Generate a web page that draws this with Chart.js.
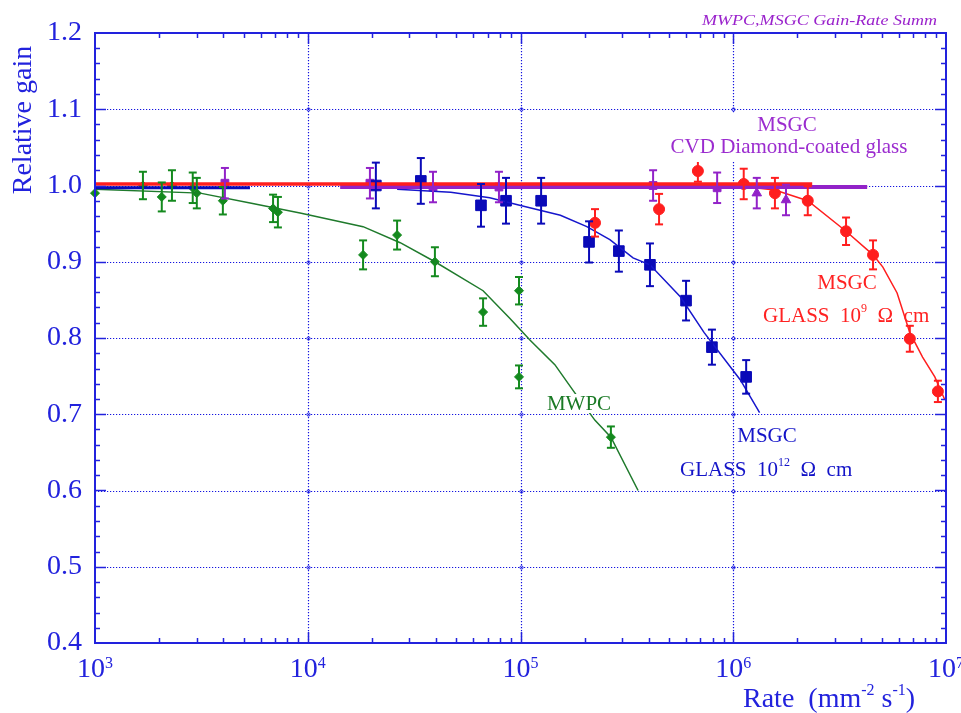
<!DOCTYPE html>
<html><head><meta charset="utf-8">
<script src="https://cdn.jsdelivr.net/npm/chart.js@4/dist/chart.umd.min.js"></script>
<style>html,body{margin:0;padding:0;background:#fff;}#wrap{width:961px;height:713px;position:relative;}</style>
</head><body><div id="wrap"><canvas id="c"></canvas></div>
<script>
// ---- data ----
const mwpcRate = [1000, 1680, 2060, 2300, 2880, 3010, 3990, 6870, 7240, 18200, 26300, 39600, 66700, 98400, 98400, 266000];
const mwpcGain = [0.990, 1.000, 0.985, 1.000, 0.997, 0.990, 0.980, 0.970, 0.965, 0.909, 0.935, 0.900, 0.834, 0.862, 0.749, 0.670];
const mwpcErr  = [0, 0.018, 0.019, 0.020, 0.020, 0.020, 0.018, 0.018, 0.020, 0.019, 0.019, 0.019, 0.018, 0.018, 0.015, 0.014];
const mwpcCurveRate = [1000, 3120, 5360, 9200, 18200, 27200, 39600, 66700, 89000, 111000, 145000, 180000, 224000, 266000, 357000];
const mwpcCurveGain = [0.995, 0.990, 0.977, 0.964, 0.946, 0.925, 0.900, 0.862, 0.826, 0.797, 0.765, 0.728, 0.692, 0.670, 0.600];

const glass12Rate = [20900, 34000, 65200, 85500, 125000, 210000, 290000, 406000, 600000, 794000, 1150000];
const glass12Gain = [1.000, 1.006, 0.974, 0.980, 0.980, 0.926, 0.914, 0.896, 0.849, 0.788, 0.749];
const glass12Err  = [0.030, 0.030, 0.028, 0.030, 0.030, 0.027, 0.027, 0.028, 0.026, 0.023, 0.022];
const glass12FlatRate = [1000, 5350];
const glass12FlatGain = [0.997, 0.997];
const glass12CurveRate = [26300, 47000, 71700, 99000, 154000, 205000, 263000, 338000, 406000, 564000, 730000, 1080000, 1330000];
const glass12CurveGain = [0.995, 0.991, 0.984, 0.974, 0.961, 0.946, 0.929, 0.905, 0.896, 0.854, 0.807, 0.745, 0.702];

const glass9Rate = [224000, 448000, 682000, 1120000, 1570000, 2240000, 3390000, 4540000, 6760000, 9160000];
const glass9Gain = [0.951, 0.969, 1.019, 1.002, 0.990, 0.980, 0.940, 0.909, 0.799, 0.730];
const glass9Err  = [0.018, 0.020, 0.014, 0.020, 0.020, 0.019, 0.018, 0.019, 0.017, 0.014];
const glass9FlatRate = [1000, 2350000];
const glass9FlatGain = [1.002, 1.002];
const glass9CurveRate = [1080000, 1570000, 2240000, 3390000, 4540000, 5050000, 5890000, 6760000, 7760000, 8860000, 9870000];
const glass9CurveGain = [0.999, 0.994, 0.980, 0.940, 0.909, 0.893, 0.859, 0.807, 0.775, 0.749, 0.719];

const cvdRate = [4080, 19600, 38800, 79200, 420000, 840000, 1290000, 1770000];
const cvdGain = [1.003, 1.003, 0.998, 0.998, 1.000, 0.997, 0.990, 0.981];
const cvdErr  = [0.020, 0.020, 0.020, 0.020, 0.020, 0.020, 0.020, 0.020];
const cvdStyle = ['rect','rect','rect','rect','rect','rect','triangle','triangle'];
const cvdFlatRate = [14200, 4260000];
const cvdFlatGain = [0.998, 0.998];

const xDecades = [1e3, 1e4, 1e5, 1e6, 1e7];
const xExponents = ['3', '4', '5', '6', '7'];
const yMajor = [0.4, 0.5, 0.6, 0.7, 0.8, 0.9, 1.0, 1.1, 1.2];

// ---- styling ----
const AX = '#2222dd';
const GREEN = '#148a1e', BLUE = '#0a0ab8', RED = '#ff1e1e', PURPLE = '#9222c8';
const zip = (xs, ys) => xs.map((x, i) => ({x, y: ys[i]}));

const datasets = [
  {data: zip(glass9FlatRate, glass9FlatGain), showLine: true, borderColor: RED, borderWidth: 3.5, pointRadius: 0},
  {data: zip(cvdFlatRate, cvdFlatGain), showLine: true, borderColor: PURPLE, borderWidth: 4, pointRadius: 0},
  {data: zip(cvdFlatRate, cvdFlatGain), showLine: true, borderColor: '#ffffff', borderWidth: 1.3, borderDash: [1.2, 2.3], pointRadius: 0},
  {data: zip(glass12FlatRate, glass12FlatGain), showLine: true, borderColor: BLUE, borderWidth: 3, pointRadius: 0},
  {data: zip(mwpcCurveRate, mwpcCurveGain), showLine: true, borderColor: '#1f7a2c', borderWidth: 1.5, pointRadius: 0},
  {data: zip(glass12CurveRate, glass12CurveGain), showLine: true, borderColor: '#1616cc', borderWidth: 1.5, pointRadius: 0},
  {data: zip(glass9CurveRate, glass9CurveGain), showLine: true, borderColor: RED, borderWidth: 1.5, pointRadius: 0},
  {data: zip(mwpcRate, mwpcGain), errors: mwpcErr, errColor: GREEN, showLine: false, pointStyle: 'rectRot', pointRadius: 4.5, backgroundColor: GREEN, borderColor: GREEN, borderWidth: 1},
  {data: zip(glass12Rate, glass12Gain), errors: glass12Err, errColor: BLUE, showLine: false, pointStyle: 'rect', pointRadius: 7.5, backgroundColor: BLUE, borderColor: BLUE, borderWidth: 1},
  {data: zip(glass9Rate, glass9Gain), errors: glass9Err, errColor: RED, showLine: false, pointStyle: 'circle', pointRadius: 5.5, backgroundColor: RED, borderColor: RED, borderWidth: 1},
  {data: zip(cvdRate, cvdGain), errors: cvdErr, errColor: PURPLE, showLine: false, pointStyle: cvdStyle, pointRadius: 5.5, backgroundColor: PURPLE, borderColor: PURPLE, borderWidth: 1}
];
datasets.forEach(d => { d.clip = false; d.tension = 0; d.pointHoverRadius = d.pointRadius; });

function line(ctx, x1, y1, x2, y2) { ctx.beginPath(); ctx.moveTo(x1, y1); ctx.lineTo(x2, y2); ctx.stroke(); }

const decor = {
  id: 'decor',
  beforeDatasetsDraw(chart) {
    const {ctx, chartArea: ca, scales: {x: xs, y: ys}} = chart;
    ctx.save();
    ctx.strokeStyle = '#1414e0'; ctx.lineWidth = 1.2; ctx.setLineDash([1.2, 1.8]);
    xDecades.slice(1, -1).forEach(d => { const p = Math.round(xs.getPixelForValue(d)) + 0.5; line(ctx, p, ca.top, p, ca.bottom); });
    yMajor.slice(1, -1).forEach(v => { const p = Math.round(ys.getPixelForValue(v)) + 0.5; line(ctx, ca.left, p, ca.right, p); });
    ctx.setLineDash([]); ctx.lineWidth = 1;
    xDecades.slice(1, -1).forEach(d => yMajor.slice(1, -1).forEach(v => {
      ctx.beginPath(); ctx.arc(Math.round(xs.getPixelForValue(d)) + 0.5, Math.round(ys.getPixelForValue(v)) + 0.5, 1.6, 0, Math.PI * 2); ctx.stroke();
    }));
    ctx.restore();
  },
  afterDatasetsDraw(chart) {
    const {ctx, chartArea: ca, scales: {x: xs, y: ys}} = chart;
    ctx.save();
    // error bars
    chart.data.datasets.forEach((ds) => {
      if (!ds.errors) return;
      ctx.strokeStyle = ds.errColor; ctx.lineWidth = 2;
      ds.data.forEach((pt, i) => {
        const e = ds.errors[i]; if (!e) return;
        const px = xs.getPixelForValue(pt.x);
        const y1 = ys.getPixelForValue(pt.y + e), y2 = ys.getPixelForValue(pt.y - e);
        line(ctx, px, y1, px, y2);
        line(ctx, px - 4, y1, px + 4, y1);
        line(ctx, px - 4, y2, px + 4, y2);
      });
    });
    // frame
    ctx.strokeStyle = AX; ctx.lineWidth = 2;
    ctx.strokeRect(ca.left, ca.top, ca.right - ca.left, ca.bottom - ca.top);
    ctx.lineWidth = 1.5;
    // x ticks
    for (let k = 3; k < 7; k++) {
      for (let m = 1; m <= 9; m++) {
        const v = m * Math.pow(10, k);
        if (v <= 1000) continue;
        const p = Math.round(xs.getPixelForValue(v)) + 0.5;
        const L = m === 1 ? 11 : 5;
        line(ctx, p, ca.bottom, p, ca.bottom - L);
        line(ctx, p, ca.top, p, ca.top + L);
      }
    }
    // y ticks
    for (let i = 1; i < 40; i++) {
      const v = 0.4 + i * 0.02;
      const p = Math.round(ys.getPixelForValue(v)) + 0.5;
      const L = i % 5 === 0 ? 11 : 5;
      line(ctx, ca.left, p, ca.left + L, p);
      line(ctx, ca.right, p, ca.right - L, p);
    }
    // x tick labels with superscripts
    ctx.fillStyle = AX; ctx.textBaseline = 'alphabetic'; ctx.textAlign = 'left';
    xDecades.forEach((d, i) => {
      const p = xs.getPixelForValue(d);
      ctx.font = '28px "Liberation Serif"';
      const w1 = ctx.measureText('10').width;
      ctx.font = '16px "Liberation Serif"';
      const w2 = ctx.measureText(xExponents[i]).width;
      const x0 = p - (w1 + w2) / 2;
      ctx.font = '28px "Liberation Serif"';
      ctx.fillText('10', x0, 677);
      ctx.font = '16px "Liberation Serif"';
      ctx.fillText(xExponents[i], x0 + w1, 668);
    });
    // x title: Rate (mm^-2 s^-1)
    let cx = 743;
    const seg = (t, f, y) => { ctx.font = f; ctx.fillText(t, cx, y); cx += ctx.measureText(t).width; };
    seg('Rate  (mm', '28px "Liberation Serif"', 707);
    seg('-2', '16px "Liberation Serif"', 695);
    seg(' s', '28px "Liberation Serif"', 707);
    seg('-1', '16px "Liberation Serif"', 695);
    seg(')', '28px "Liberation Serif"', 707);
    // y title
    ctx.save();
    ctx.translate(31, 120); ctx.rotate(-Math.PI / 2);
    ctx.textAlign = 'center'; ctx.font = '28px "Liberation Serif"';
    ctx.fillText('Relative gain', 0, 0);
    ctx.restore();
    // header
    ctx.save();
    ctx.font = 'italic 15px "Liberation Serif"';
    const ht = 'MWPC,MSGC Gain-Rate Summ';
    const hw = ctx.measureText(ht).width;
    ctx.translate(702, 25); ctx.scale(235 / hw, 1);
    ctx.fillStyle = '#9a22cc'; ctx.fillText(ht, 0, 0);
    ctx.restore();
    // annotations
    ctx.textBaseline = 'middle';
    ctx.font = '21px "Liberation Serif"';
    // CVD label (white background)
    ctx.fillStyle = '#ffffff';
    ctx.fillRect(660, 114, 258, 48);
    ctx.fillStyle = '#9b2ccf'; ctx.textAlign = 'center';
    ctx.fillText('MSGC', 787, 125);
    ctx.fillText('CVD Diamond-coated glass', 789, 147);
    // MWPC label (white background)
    ctx.fillStyle = '#ffffff';
    ctx.fillRect(543, 394, 72, 19);
    ctx.fillStyle = '#1a7a25';
    ctx.fillText('MWPC', 579, 404);
    // MSGC glass 10^12
    ctx.fillStyle = '#1414c8';
    ctx.fillText('MSGC', 767, 436);
    ctx.textAlign = 'left';
    cx = 680;
    const seg2 = (t, f, y) => { ctx.font = f; ctx.fillText(t, cx, y); cx += ctx.measureText(t).width; };
    seg2('GLASS  10', '21px "Liberation Serif"', 470);
    seg2('12', '12px "Liberation Serif"', 463);
    seg2('  \u03A9  cm', '21px "Liberation Serif"', 470);
    // MSGC glass 10^9
    ctx.fillStyle = '#ff2222'; ctx.textAlign = 'center'; ctx.font = '21px "Liberation Serif"';
    ctx.fillText('MSGC', 847, 283);
    ctx.textAlign = 'left';
    cx = 763;
    seg2('GLASS  10', '21px "Liberation Serif"', 316);
    seg2('9', '12px "Liberation Serif"', 309);
    seg2('  \u03A9  cm', '21px "Liberation Serif"', 316);
    ctx.restore();
  }
};

new Chart(document.getElementById('c'), {
  type: 'scatter',
  data: {datasets},
  options: {
    responsive: true, maintainAspectRatio: false, animation: false,
    devicePixelRatio: 1,
    layout: {padding: {top: 33, right: 15, left: 0, bottom: 0}},
    plugins: {legend: {display: false}, tooltip: {enabled: false}},
    scales: {
      x: {type: 'logarithmic', min: 1000, max: 1e7,
          ticks: {display: false}, grid: {display: false}, border: {display: false},
          afterFit: s => { s.height = 70; }},
      y: {type: 'linear', min: 0.4, max: 1.2,
          ticks: {stepSize: 0.1, callback: v => Number(v).toFixed(1), color: AX, padding: 5,
                  font: {family: 'Liberation Serif', size: 28}},
          grid: {display: false}, border: {display: false},
          afterFit: s => { s.width = 95; }}
    }
  },
  plugins: [decor]
});
</script></body></html>
